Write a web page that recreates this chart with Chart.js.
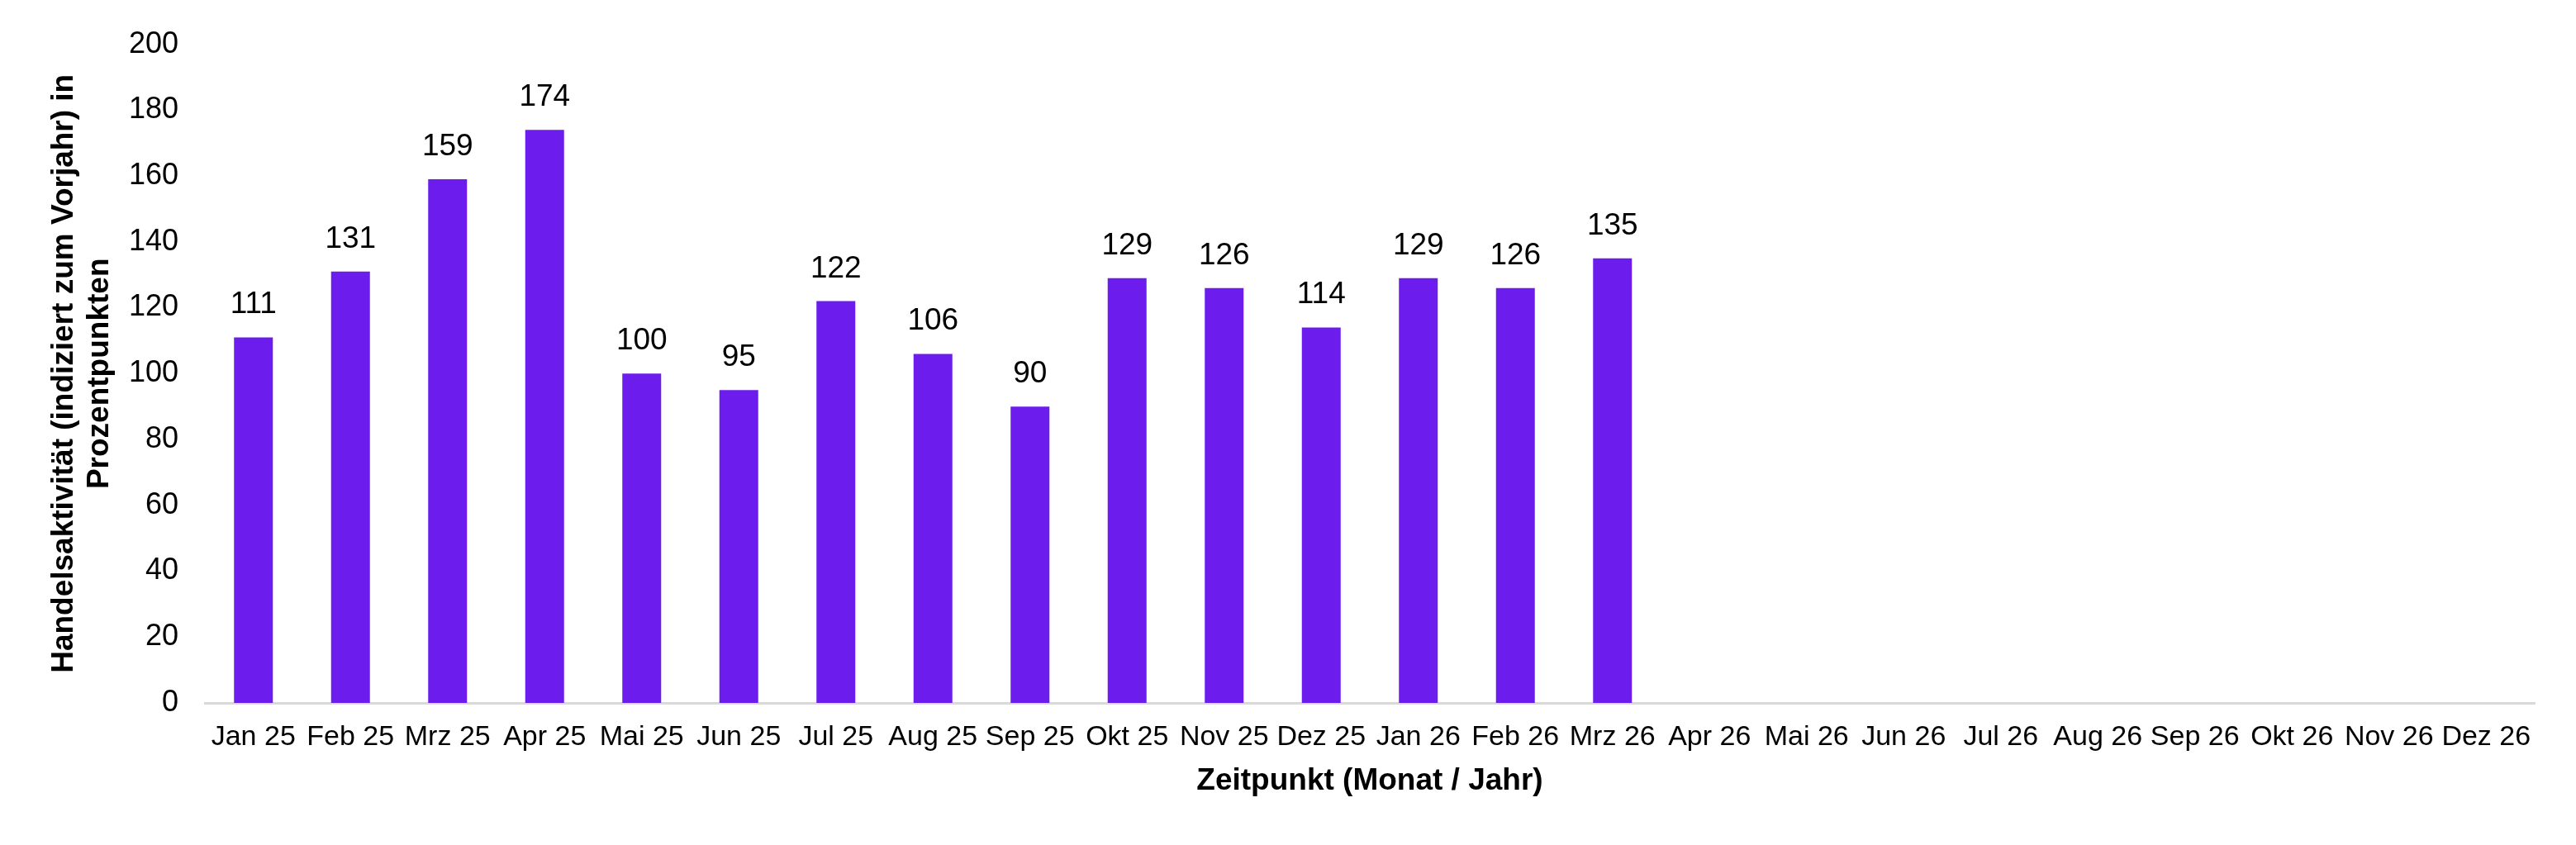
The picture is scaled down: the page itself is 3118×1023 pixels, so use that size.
<!DOCTYPE html>
<html>
<head>
<meta charset="utf-8">
<script src="https://cdn.jsdelivr.net/npm/chart.js@4/dist/chart.umd.min.js"></script>
<style>
  html, body { margin: 0; padding: 0; background: #fff; }
  #wrap { width: 3118px; height: 1023px; position: relative; }
</style>
</head>
<body>
<div id="wrap"><canvas id="chart"></canvas></div>
<script>
const months = [
  'Jan 25', 'Feb 25', 'Mrz 25', 'Apr 25', 'Mai 25', 'Jun 25', 'Jul 25', 'Aug 25',
  'Sep 25', 'Okt 25', 'Nov 25', 'Dez 25', 'Jan 26', 'Feb 26', 'Mrz 26', 'Apr 26',
  'Mai 26', 'Jun 26', 'Jul 26', 'Aug 26', 'Sep 26', 'Okt 26', 'Nov 26', 'Dez 26'
];
// no values yet for Apr 26 - Dez 26
const activity = [111, 131, 159, 174, 100, 95, 122, 106, 90, 129, 126, 114, 129, 126, 135,
  null, null, null, null, null, null, null, null, null];
const yTitle = ['Handelsaktivität (indiziert zum Vorjahr) in', 'Prozentpunkten'];
const xTitle = 'Zeitpunkt (Monat / Jahr)';

const FONT = '"Liberation Sans", Arial, sans-serif';
const BAR = '#6C1DEE';

// draws the value above each bar
const barValues = {
  id: 'barValues',
  afterDatasetsDraw(chart) {
    const ctx = chart.ctx;
    const meta = chart.getDatasetMeta(0);
    ctx.save();
    ctx.font = '37px ' + FONT;
    ctx.fillStyle = '#000';
    ctx.textAlign = 'center';
    ctx.textBaseline = 'alphabetic';
    meta.data.forEach((bar, i) => {
      const v = activity[i];
      if (v == null) return;
      ctx.fillText(String(v), bar.x, bar.y - 29);
    });
    ctx.restore();
  }
};

new Chart(document.getElementById('chart'), {
  type: 'bar',
  data: {
    labels: months,
    datasets: [{
      data: activity,
      backgroundColor: BAR,
      borderWidth: 0,
      barPercentage: 0.4,
      categoryPercentage: 1
    }]
  },
  options: {
    responsive: true,
    maintainAspectRatio: false,
    animation: false,
    layout: { padding: { top: 50, right: 50, bottom: 0, left: 0 } },
    plugins: {
      legend: { display: false },
      tooltip: { enabled: false }
    },
    scales: {
      x: {
        grid: { display: false, drawTicks: false },
        border: { display: true, color: '#D9D9D9', width: 3 },
        ticks: {
          color: '#000',
          font: { family: FONT, size: 34 },
          padding: 21,
          autoSkip: false,
          maxRotation: 0
        },
        title: {
          display: true,
          text: xTitle,
          color: '#000',
          font: { family: FONT, size: 37, weight: 'bold', lineHeight: 1.2 },
          padding: { top: 0, bottom: 55 }
        },
        afterFit(scale) { scale.height = 172; }
      },
      y: {
        min: 0,
        max: 200,
        grid: { display: false, drawTicks: false },
        border: { display: false },
        ticks: {
          stepSize: 20,
          color: '#000',
          font: { family: FONT, size: 36 },
          padding: 32
        },
        title: {
          display: true,
          text: yTitle,
          color: '#000',
          font: { family: FONT, size: 37, weight: 'bold', lineHeight: 1.15 },
          padding: { top: 57, bottom: 0 }
        },
        afterFit(scale) { scale.width = 248; }
      }
    }
  },
  plugins: [barValues]
});
</script>
</body>
</html>
